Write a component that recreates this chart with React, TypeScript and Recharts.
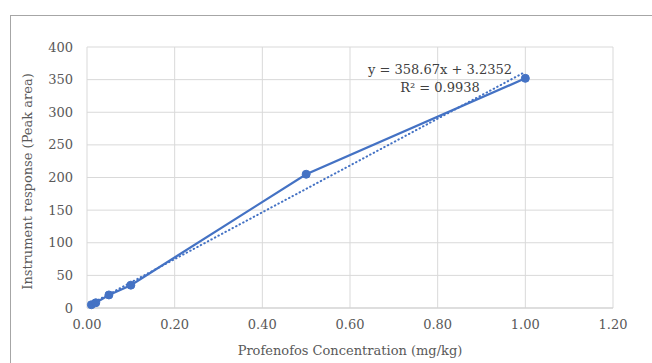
import { ComposedChart, Line, XAxis, YAxis, CartesianGrid, Label } from 'recharts';

// calibration points: concentration (mg/kg) vs peak area
const concentration = [0.01, 0.02, 0.05, 0.1, 0.5, 1.0];
const peakArea = [5, 8, 20, 35, 205, 352];

// linear trendline end points (y = 358.67x + 3.2352)
const trendX = [0.01, 1.0];
const trendY = [6.8, 361.9];

const xTicks = [0, 0.2, 0.4, 0.6, 0.8, 1.0, 1.2];
const yTicks = [0, 50, 100, 150, 200, 250, 300, 350, 400];

const equation = 'y = 358.67x + 3.2352';
const rSquared = 'R² = 0.9938';

const points = concentration.map((x, i) => ({ x, y: peakArea[i] }));
const trend = trendX.map((x, i) => ({ x, t: trendY[i] }));

const FONT = '"DejaVu Serif", "Liberation Serif", serif';
const BLUE = '#4472C4';

export default function App() {
  return (
    <div style={{ position: 'absolute', left: 0, top: 0, width: 652, height: 363, overflow: 'hidden', background: '#fff' }}>
      <div
        style={{
          position: 'absolute',
          left: 10,
          top: 15,
          width: 700,
          height: 400,
          border: '1px solid #a6a6a6',
        }}
      />
      <div style={{ position: 'absolute', left: 0, top: 0 }}>
        <ComposedChart width={652} height={363} margin={{ top: 47, right: 39, bottom: 0, left: 0 }}>
          <CartesianGrid stroke="#d9d9d9" strokeWidth={1} />
          <XAxis
            type="number"
            dataKey="x"
            domain={[0, 1.2]}
            ticks={xTicks}
            tickFormatter={(v: number) => v.toFixed(2)}
            tickLine={false}
            axisLine={{ stroke: '#d0d0d0' }}
            tickSize={0}
            tickMargin={12}
            height={55}
            tick={{ fill: '#595959', fontSize: 13, fontFamily: FONT }}
            allowDuplicatedCategory={false}
          >
            <Label
              value="Profenofos Concentration (mg/kg)"
              position="insideBottom"
              offset={8}
              style={{ fill: '#595959', fontSize: 13, fontFamily: FONT }}
            />
          </XAxis>
          <YAxis
            type="number"
            domain={[0, 400]}
            ticks={yTicks}
            tickLine={false}
            axisLine={false}
            tickSize={0}
            tickMargin={14}
            width={87}
            tick={{ fill: '#595959', fontSize: 13, fontFamily: FONT }}
          >
            <Label
              value="Instrument response (Peak area)"
              angle={-90}
              position="insideLeft"
              offset={27}
              dy={4}
              style={{ fill: '#595959', fontSize: 13, fontFamily: FONT, textAnchor: 'middle' }}
            />
          </YAxis>
          <Line
            data={trend}
            dataKey="t"
            type="linear"
            stroke={BLUE}
            strokeWidth={2}
            strokeDasharray="0.5 3.5"
            strokeLinecap="round"
            dot={false}
            activeDot={false}
            isAnimationActive={false}
          />
          <Line
            data={points}
            dataKey="y"
            type="linear"
            stroke={BLUE}
            strokeWidth={2.25}
            dot={{ r: 4, fill: BLUE, stroke: BLUE, strokeWidth: 1 }}
            activeDot={false}
            isAnimationActive={false}
          />
        </ComposedChart>
      </div>
      <div
        style={{
          position: 'absolute',
          left: 380,
          top: 61,
          width: 120,
          textAlign: 'center',
          fontFamily: FONT,
          fontSize: 13,
          color: '#404040',
          lineHeight: '18px',
          whiteSpace: 'nowrap',
        }}
      >
        <div style={{ marginLeft: -20, marginRight: -20 }}>{equation}</div>
        <div>{rSquared}</div>
      </div>
    </div>
  );
}
